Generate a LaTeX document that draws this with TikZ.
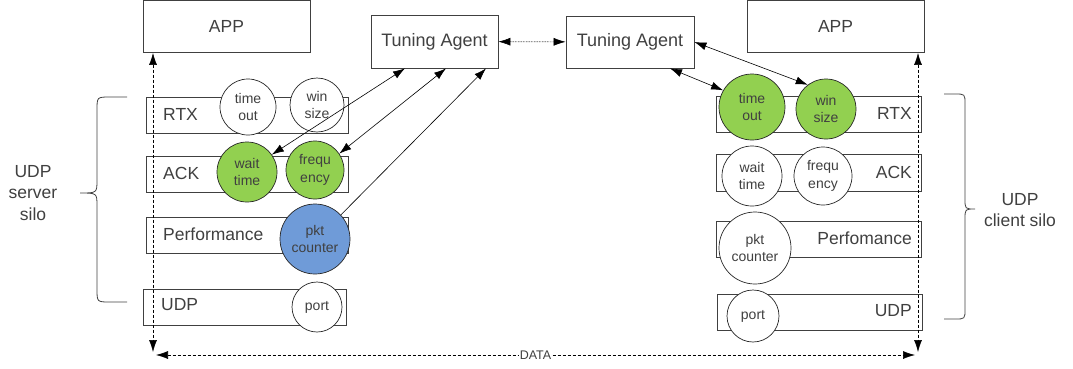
\documentclass[tikz,border=0pt]{standalone}
\usepackage{fontspec}
\setmainfont{Liberation Sans}
\usetikzlibrary{arrows.meta}

\definecolor{ink}{HTML}{404040}
\definecolor{knobgreen}{HTML}{92D050}
\definecolor{knobblue}{HTML}{6F9BD8}

\tikzset{
  layer/.style={draw=ink, line width=0.8pt, rectangle, inner sep=0pt},
  lbl/.style={text=ink, inner sep=0pt, font=\fontsize{17.5}{21}\selectfont},
  knob/.style={circle, draw=black!85, line width=0.7pt, fill=white, inner sep=0pt,
    align=center, text=ink, font=\fontsize{14}{17.5}\selectfont},
  tuned/.style={knob, fill=knobgreen},
  watched/.style={knob, fill=knobblue},
  link/.style={line width=0.6pt, {Latex[length=12pt,width=8pt]}-{Latex[length=12pt,width=8pt]}},
  datapath/.style={line width=0.6pt, dash pattern=on 3pt off 2pt, {Latex[length=12pt,width=8pt]}-{Latex[length=12pt,width=8pt]}}
}

\begin{document}
\begin{tikzpicture}[x=1pt, y=-1pt]
  \useasboundingbox (0,0) rectangle (1073,368);

  % top boxes
  \node[layer, minimum width=167, minimum height=52] (appL) at (226.5,26.5) {};
  \node[lbl] (appLt) at (appL) {APP};
  \node[layer, minimum width=177, minimum height=52] (appR) at (835.5,26.5) {};
  \node[lbl] (appRt) at (appR) {APP};
  \node[layer, minimum width=127, minimum height=53, font=\fontsize{18}{21}\selectfont, text=ink] (taL) at (434.5,41.5) {Tuning Agent};
  \node[layer, minimum width=128, minimum height=52, font=\fontsize{18}{21}\selectfont, text=ink] (taR) at (630,42) {Tuning Agent};

  % server silo
  \node[layer, minimum width=202, minimum height=36] (rtxL) at (247,115) {};
  \node[layer, minimum width=202, minimum height=36] (ackL) at (247,174) {};
  \node[layer, minimum width=202, minimum height=36] (perfL) at (247,235) {};
  \node[layer, minimum width=203, minimum height=36] (udpL) at (244.5,307) {};
  \node[lbl, anchor=west] (rtxLt) at (163,114) {RTX};
  \node[lbl, anchor=west] (ackLt) at (163,173) {ACK};
  \node[lbl, anchor=west] (perfLt) at (163,234) {Performance};
  \node[lbl, anchor=west] (udpLt) at (161,305) {UDP};

  \node[knob, minimum size=56] (toL) at (248,107) {time\\out};
  \node[knob, minimum size=54] (winL) at (317,105) {win\\size};
  \node[tuned, minimum size=60] (waitL) at (247,172) {wait\\time};
  \node[tuned, minimum size=58] (freqL) at (315,170) {frequ\\ency};
  \node[watched, minimum size=70] (pktL) at (315,239) {pkt\\counter};
  \node[knob, minimum size=50] (portL) at (317,307) {port};

  % client silo
  \node[layer, minimum width=205, minimum height=36] (rtxR) at (818.5,114) {};
  \node[layer, minimum width=205, minimum height=37] (ackR) at (818.5,172.5) {};
  \node[layer, minimum width=205, minimum height=36] (perfR) at (818.5,239) {};
  \node[layer, minimum width=205, minimum height=36] (udpR) at (819.5,312) {};
  \node[lbl, anchor=east] (rtxRt) at (912,113) {RTX};
  \node[lbl, anchor=east] (ackRt) at (912,172) {ACK};
  \node[lbl, anchor=east] (perfRt) at (912,238) {Perfomance};
  \node[lbl, anchor=east] (udpRt) at (912,311) {UDP};

  \node[tuned, minimum size=66] (toR) at (752,107) {time\\out};
  \node[tuned, minimum size=60] (winR) at (826,109) {win\\size};
  \node[knob, minimum size=60] (waitR) at (752,176) {wait\\time};
  \node[knob, minimum size=58] (freqR) at (823,176) {frequ\\ency};
  \node[knob, minimum size=72] (pktR) at (755,248) {pkt\\counter};
  \node[knob, minimum size=52] (portR) at (753,316) {port};

  % braces
  \draw[ink, line width=0.8pt] (127,97) -- (110,97) .. controls (97,97) .. (97,110)
    -- (97,180) .. controls (97,193) .. (80,193) .. controls (97,193) .. (97,206)
    -- (97,289) .. controls (97,302) .. (110,302) -- (127,302);
  \draw[ink, line width=0.8pt] (944,94) -- (955,94) .. controls (965,94) .. (965,104)
    -- (965,199) .. controls (965,209) .. (975,209) .. controls (965,209) .. (965,219)
    -- (965,309) .. controls (965,319) .. (955,319) -- (944,319);
  \node[lbl, align=center, font=\fontsize{17.5}{21.7}\selectfont] (srvSilo) at (33,193) {UDP\\server\\silo};
  \node[lbl, align=center, font=\fontsize{17.5}{21.7}\selectfont] (cliSilo) at (1020,210) {UDP\\client silo};

  % data path
  \coordinate (dataL) at (153,355);
  \coordinate (dataR) at (918,355);
  \draw[datapath] (appL.south -| dataL) -- ([yshift=3pt]dataL);
  \draw[datapath] (appR.south -| dataR) -- ([yshift=3pt]dataR);
  \draw[datapath] ([xshift=3pt]dataL) -- ([xshift=-3pt]dataR)
    node[midway, fill=white, inner sep=1pt, text=ink, font=\fontsize{12.5}{14}\selectfont] (data) {DATA};

  % tuning links
  \draw[datapath, densely dotted] (taL) -- (taR);
  \draw[link] ([xshift=-29.5pt]taL.south) -- (waitL.35);
  \draw[link] ([xshift=11.5pt]taL.south) -- (freqL.34);
  \draw[link, {Latex[length=12pt,width=8pt]}-] ([xshift=51.5pt]taL.south) -- (pktL.43);
  \draw[link] ([xshift=40pt]taR.south) -- (toR.150);
  \draw[link] (taR.east) -- (winR.127);
\end{tikzpicture}
\end{document}
